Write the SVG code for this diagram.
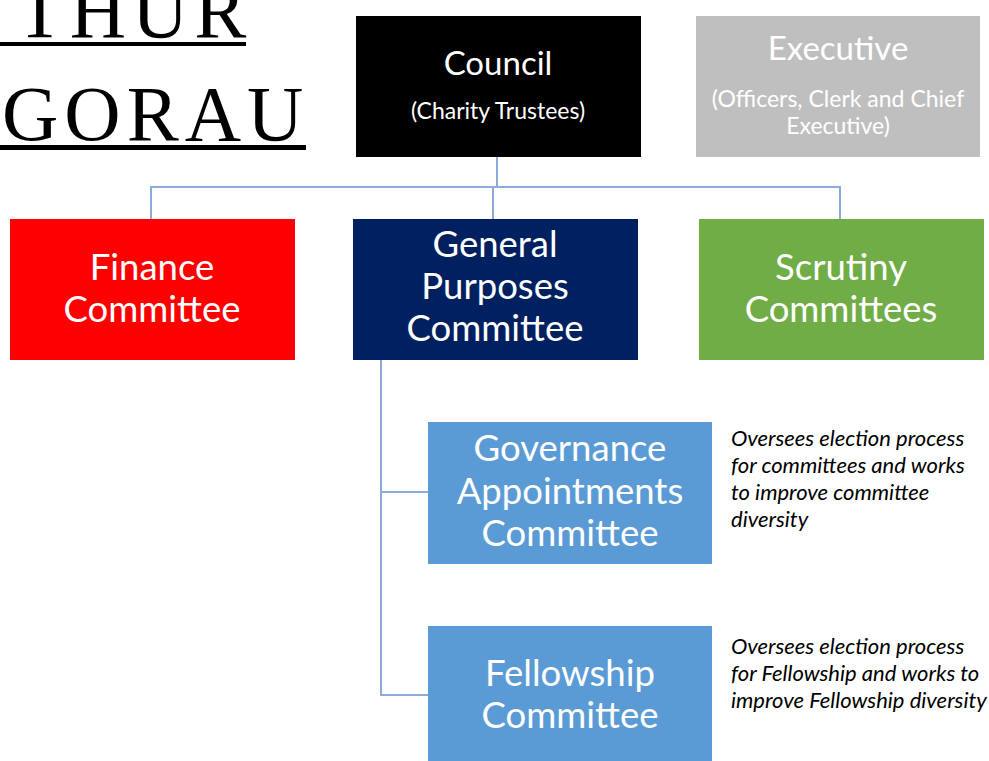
<svg xmlns="http://www.w3.org/2000/svg" width="989" height="761" viewBox="0 0 989 761">
<style>
.t{font-family:"Lato","Noto Sans",sans-serif;fill:#fff;text-anchor:middle}
.big{font-size:36.5px}
.desc{font-family:"Lato","Noto Sans",sans-serif;font-style:italic;font-size:22px;fill:#000}
.title{font-family:"Liberation Serif","Times New Roman",serif;font-size:78px;fill:#000;letter-spacing:6px}
.ln{stroke:#8eaadb;stroke-width:2;fill:none}
</style>
<rect width="989" height="761" fill="#fff"/>
<g id="title">
<text class="title" x="16" y="37" letter-spacing="4">THUR</text>
<rect x="0" y="42" width="246" height="4" fill="#000"/>
<text class="title" x="2" y="140">GORAU</text>
<rect x="0" y="145" width="306" height="5" fill="#000"/>
</g>
<g id="connectors">
<path class="ln" d="M497 157V187M151 219V187H840V219M493 187V219"/>
<path class="ln" d="M381 360V695H428M381 492H428"/>
</g>
<g id="council">
<rect x="356" y="16" width="285" height="141" fill="#000"/>
<text class="t" x="498" y="75" font-size="33">Council</text>
<text class="t" x="498" y="119" font-size="23">(Charity Trustees)</text>
</g>
<g id="executive">
<rect x="696" y="16" width="284" height="141" fill="#bfbfbf"/>
<text class="t" x="838" y="60" font-size="33" fill="#f2f2f2">Executive</text>
<text class="t" x="838" y="107" font-size="23" fill="#f2f2f2">(Officers, Clerk and Chief</text>
<text class="t" x="838" y="134" font-size="23" fill="#f2f2f2">Executive)</text>
</g>
<g id="finance">
<rect x="10" y="219" width="285" height="141" fill="#ff0000"/>
<text class="t big" x="152" y="280">Finance</text>
<text class="t big" x="152" y="322">Committee</text>
</g>
<g id="general-purposes">
<rect x="353" y="219" width="285" height="141" fill="#002060"/>
<text class="t big" x="495" y="257">General</text>
<text class="t big" x="495" y="299">Purposes</text>
<text class="t big" x="495" y="341">Committee</text>
</g>
<g id="scrutiny">
<rect x="699" y="219" width="285" height="141" fill="#70ad47"/>
<text class="t big" x="841" y="280">Scrutiny</text>
<text class="t big" x="841" y="322">Committees</text>
</g>
<g id="governance">
<rect x="428" y="422" width="284" height="142" fill="#5b9bd5"/>
<text class="t big" x="570" y="461">Governance</text>
<text class="t big" x="570" y="504">Appointments</text>
<text class="t big" x="570" y="546">Committee</text>
<text class="desc" x="731" y="446">Oversees election process</text>
<text class="desc" x="731" y="473">for committees and works</text>
<text class="desc" x="731" y="500">to improve committee</text>
<text class="desc" x="731" y="527">diversity</text>
</g>
<g id="fellowship">
<rect x="428" y="626" width="284" height="135" fill="#5b9bd5"/>
<text class="t big" x="570" y="686">Fellowship</text>
<text class="t big" x="570" y="728">Committee</text>
<text class="desc" x="731" y="654">Oversees election process</text>
<text class="desc" x="731" y="681">for Fellowship and works to</text>
<text class="desc" x="731" y="708">improve Fellowship diversity</text>
</g>
</svg>
